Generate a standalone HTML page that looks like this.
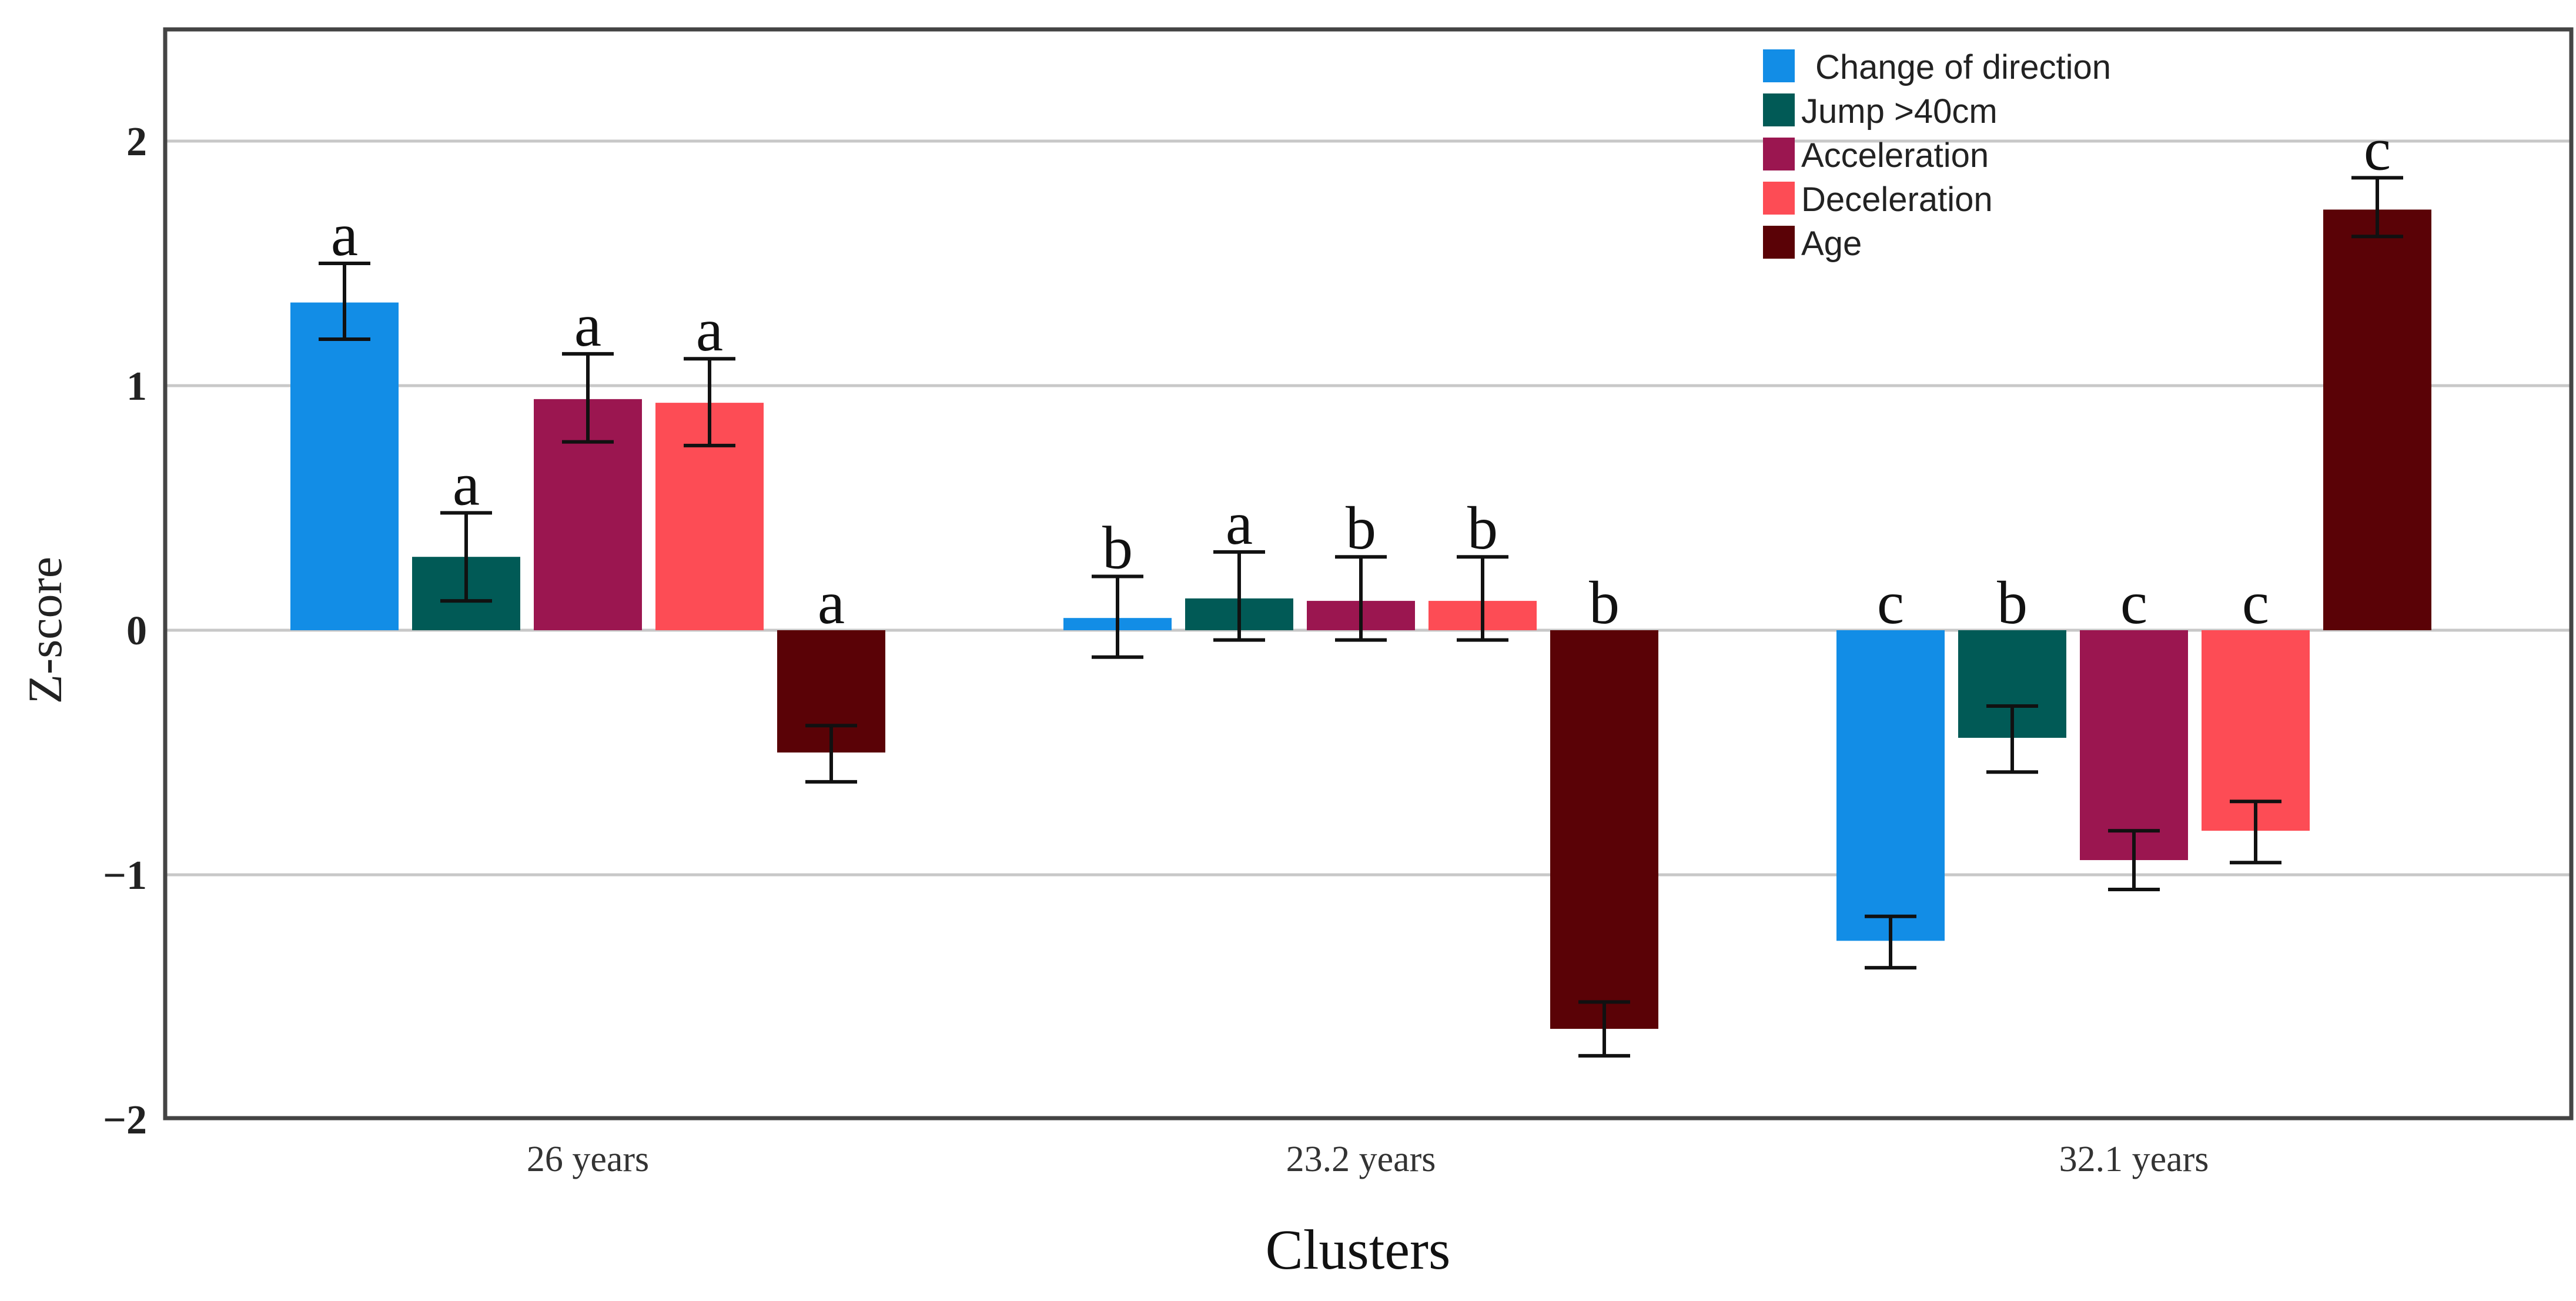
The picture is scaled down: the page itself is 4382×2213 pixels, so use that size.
<!DOCTYPE html>
<html><head><meta charset="utf-8"><style>
html,body{margin:0;padding:0;background:#fff}
svg{display:block}
</style></head><body>
<svg id="chart" width="4382" height="2213" viewBox="0 0 4382 2213" xmlns="http://www.w3.org/2000/svg"></svg>
<script>
const categories = ["26 years", "23.2 years", "32.1 years"];
const seriesNames = ["Change of direction", "Jump >40cm", "Acceleration", "Deceleration", "Age"];
const seriesColors = ["#128de6", "#015a56", "#9b1650", "#fd4c55", "#5a0206"];
const codValues = [1.34, 0.05, -1.27];
const jumpValues = [0.30, 0.13, -0.44];
const accValues = [0.945, 0.12, -0.94];
const decValues = [0.93, 0.12, -0.82];
const ageValues = [-0.50, -1.63, 1.72];
const codErrHi = [1.50, 0.22, -1.17], codErrLo = [1.19, -0.11, -1.38];
const jumpErrHi = [0.48, 0.32, -0.31], jumpErrLo = [0.12, -0.04, -0.58];
const accErrHi = [1.13, 0.30, -0.82], accErrLo = [0.77, -0.04, -1.06];
const decErrHi = [1.11, 0.30, -0.70], decErrLo = [0.755, -0.04, -0.95];
const ageErrHi = [-0.39, -1.52, 1.85], ageErrLo = [-0.62, -1.74, 1.61];
const letters26 = ["a", "a", "a", "a", "a"];
const letters23 = ["b", "a", "b", "b", "b"];
const letters32 = ["c", "b", "c", "c", "c"];
const yTicks = [2, 1, 0, -1, -2];
const yTickLabels = ["2", "1", "0", "\u22121", "\u22122"];

const values = [codValues, jumpValues, accValues, decValues, ageValues];
const errHi = [codErrHi, jumpErrHi, accErrHi, decErrHi, ageErrHi];
const errLo = [codErrLo, jumpErrLo, accErrLo, decErrLo, ageErrLo];
const lettersByCat = [letters26, letters23, letters32];

const NS = "http://www.w3.org/2000/svg";
const svg = document.getElementById("chart");
const L = 281, R = 4374, T = 50, B = 1902;
const Y0 = 1072, UNIT = 416;
function y(v){ return Y0 - v * UNIT; }
function xCenter(i){ return 1000 + i * 1315; }
const PITCH = 207, BW = 184;
function xBar(ci, si){ return xCenter(ci) + (si - 2) * PITCH - BW / 2; }
function mk(tag, attrs, parent){
  const e = document.createElementNS(NS, tag);
  for (const k in attrs) e.setAttribute(k, attrs[k]);
  (parent || svg).appendChild(e);
  return e;
}
const serif = "'Liberation Serif', serif";
const sans = "'Liberation Sans', sans-serif";

yTicks.forEach((t, i) => {
  if (t !== -2) {
    const g = mk("line", {x1: L, x2: R, y1: y(t), y2: y(t), stroke: "#c8c8c8", "stroke-width": 5});
    
    
  }
  const tl = mk("text", {x: 250, y: y(t) + 24, "text-anchor": "end", "font-family": serif, "font-size": 70, "font-weight": "bold", fill: "#222"});
  tl.textContent = yTickLabels[i];
  
  
});

categories.forEach((c, ci) => {
  values.forEach((arr, si) => {
    const v = arr[ci];
    const x = xBar(ci, si);
    const r = mk("rect", {x: x, y: Math.min(y(v), y(0)), width: BW, height: Math.abs(y(v) - y(0)), fill: seriesColors[si]});
    
    
    const cx = x + BW / 2;
    const hi = errHi[si][ci], lo = errLo[si][ci];
    const eg = mk("g", {stroke: "#111", "stroke-width": 6});
    
    
    mk("line", {x1: cx, x2: cx, y1: y(hi), y2: y(lo)}, eg);
    mk("line", {x1: cx - 44, x2: cx + 44, y1: y(hi), y2: y(hi)}, eg);
    mk("line", {x1: cx - 44, x2: cx + 44, y1: y(lo), y2: y(lo)}, eg);
    const ly = v >= 0 ? y(hi) - 14 : y(0) - 12;
    const lt = mk("text", {x: cx, y: ly, "text-anchor": "middle", "font-family": serif, "font-size": 104, fill: "#111"});
    lt.textContent = lettersByCat[ci][si];
    
    
  });
  const cl = mk("text", {x: xCenter(ci), y: 1992, "text-anchor": "middle", "font-family": serif, "font-size": 62, fill: "#333"});
  cl.textContent = c;
  
  
});

const fr = mk("rect", {x: L, y: T, width: R - L, height: B - T, fill: "none", stroke: "#444", "stroke-width": 7});



const yt = mk("text", {x: 0, y: 0, transform: "translate(104," + Y0 + ") rotate(-90)", "text-anchor": "middle", "font-family": serif, "font-size": 82, fill: "#222"});
yt.textContent = "Z-score";


const xt = mk("text", {x: 2310, y: 2158, "text-anchor": "middle", "font-family": serif, "font-size": 96, fill: "#111"});
xt.textContent = "Clusters";



const lg = mk("g", {});


seriesNames.forEach((n, i) => {
  const yy = 84 + i * 75;
  const sw = mk("rect", {x: 2999, y: yy, width: 54, height: 56, fill: seriesColors[i]}, lg);
  
  
  const t = mk("text", {x: i === 0 ? 3088 : 3064, y: yy + 50, "font-family": sans, "font-size": 58, fill: "#222"}, lg);
  t.textContent = n;
  
  
});
</script>
</body></html>
